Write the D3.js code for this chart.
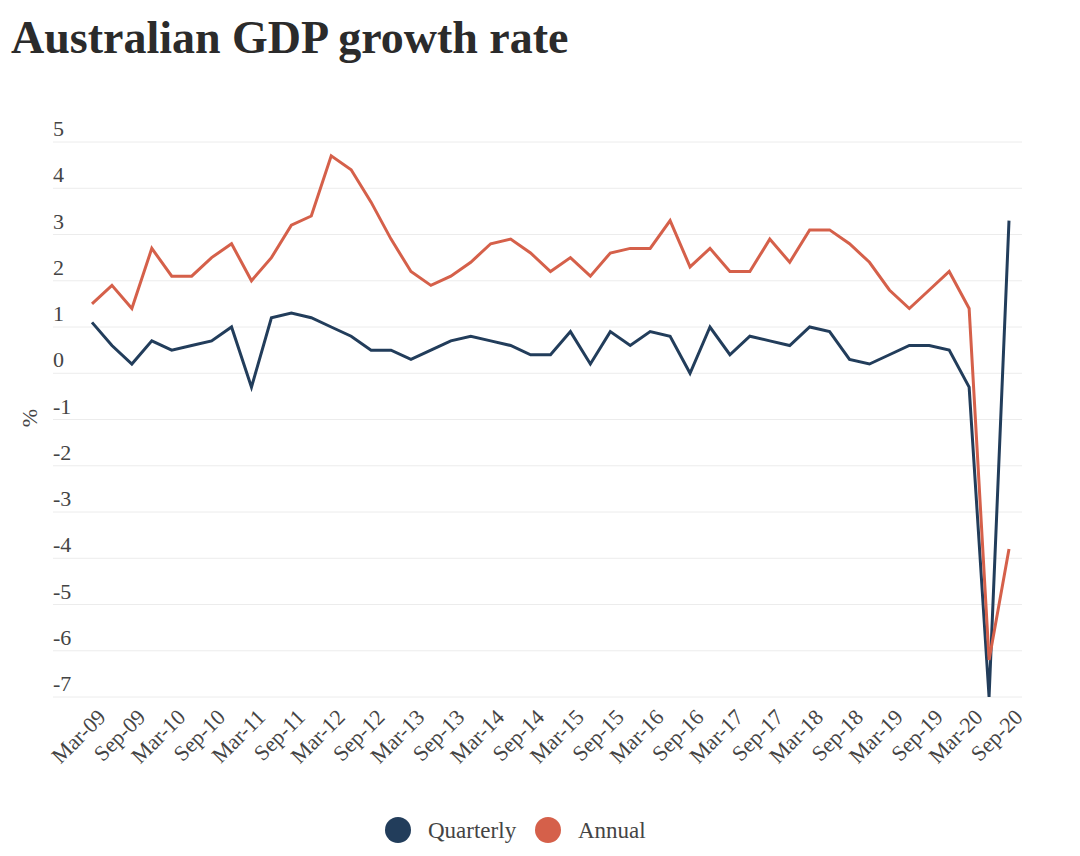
<!DOCTYPE html>
<html>
<head>
<meta charset="utf-8">
<script src="https://cdn.jsdelivr.net/npm/d3@7"></script>
<style>
  body { margin: 0; background: #fff; }
  text { font-family: "Liberation Serif", "DejaVu Serif", serif; }
</style>
</head>
<body>
<svg id="chart"></svg>
<script>
const quarters = [
    'Mar-09', 'Jun-09', 'Sep-09', 'Dec-09', 'Mar-10', 'Jun-10', 'Sep-10', 'Dec-10',
    'Mar-11', 'Jun-11', 'Sep-11', 'Dec-11', 'Mar-12', 'Jun-12', 'Sep-12', 'Dec-12',
    'Mar-13', 'Jun-13', 'Sep-13', 'Dec-13', 'Mar-14', 'Jun-14', 'Sep-14', 'Dec-14',
    'Mar-15', 'Jun-15', 'Sep-15', 'Dec-15', 'Mar-16', 'Jun-16', 'Sep-16', 'Dec-16',
    'Mar-17', 'Jun-17', 'Sep-17', 'Dec-17', 'Mar-18', 'Jun-18', 'Sep-18', 'Dec-18',
    'Mar-19', 'Jun-19', 'Sep-19', 'Dec-19', 'Mar-20', 'Jun-20', 'Sep-20'
];

const quarterly = [
    1.1, 0.6, 0.2, 0.7, 0.5, 0.6, 0.7, 1.0, -0.3, 1.2, 1.3,
    1.2, 1.0, 0.8, 0.5, 0.5, 0.3, 0.5, 0.7, 0.8, 0.7, 0.6, 0.4, 0.4, 0.9,
    0.2, 0.9, 0.6, 0.9, 0.8, 0.0, 1.0, 0.4, 0.8, 0.7, 0.6, 1.0, 0.9,
    0.3, 0.2, 0.4, 0.6, 0.6, 0.5, -0.3, -7.0, 3.3
];

const annual = [
    1.5, 1.9, 1.4, 2.7, 2.1, 2.1, 2.5, 2.8, 2.0, 2.5, 3.2,
    3.4, 4.7, 4.4, 3.7, 2.9, 2.2, 1.9, 2.1, 2.4, 2.8, 2.9, 2.6, 2.2, 2.5,
    2.1, 2.6, 2.7, 2.7, 3.3, 2.3, 2.7, 2.2, 2.2, 2.9, 2.4, 3.1, 3.1,
    2.8, 2.4, 1.8, 1.4, 1.8, 2.2, 1.4, -6.2, -3.8
];

const yTicks = [5, 4, 3, 2, 1, 0, -1, -2, -3, -4, -5, -6, -7];
const xTickLabels = quarters.filter((q, i) => i % 2 === 0);

const seriesNames = ['Quarterly', 'Annual'];
const colors = ['#223d5b', '#d5604a'];

const width = 1080;
const height = 856;

const svg = d3.select('#chart')
    .attr('width', width)
    .attr('height', height);

const x = d3.scalePoint()
    .domain(quarters)
    .range([92, 1009]);

const y = d3.scaleLinear()
    .domain([-7, 5])
    .range([697, 142]);

// title
svg.append('text')
    .attr('x', 11)
    .attr('y', 53)
    .attr('font-size', 46)
    .attr('font-weight', 'bold')
    .attr('fill', '#2b2b2b')
    .text('Australian GDP growth rate');

// gridlines + y labels
svg.append('g')
    .selectAll('line')
    .data(yTicks)
    .enter().append('line')
    .attr('x1', 53)
    .attr('x2', 1022)
    .attr('y1', d => y(d))
    .attr('y2', d => y(d))
    .attr('stroke', '#ececec')
    .attr('stroke-width', 1);

svg.append('g')
    .selectAll('text')
    .data(yTicks)
    .enter().append('text')
    .attr('x', 53)
    .attr('y', d => y(d) - 6)
    .attr('font-size', 22)
    .attr('fill', '#444')
    .text(d => d);

svg.append('text')
    .attr('transform', 'translate(37,418) rotate(-90)')
    .attr('text-anchor', 'middle')
    .attr('font-size', 22)
    .attr('fill', '#444')
    .text('%');

// x axis labels
const xAxis = d3.axisBottom(x)
    .tickValues(xTickLabels)
    .tickSize(0)
    .tickPadding(0);

const xg = svg.append('g')
    .attr('transform', 'translate(0,713)')
    .call(xAxis);

xg.select('.domain').remove();
xg.selectAll('text')
    .attr('font-family', '"Liberation Serif", serif')
    .attr('font-size', 22)
    .attr('fill', '#444')
    .attr('text-anchor', 'end')
    .attr('dy', '0.35em')
    .attr('dx', 0)
    .attr('y', 0)
    .attr('transform', 'translate(9,0) rotate(-45)');

// lines
const line = d3.line()
    .x((d, i) => x(quarters[i]))
    .y(d => y(d));

[quarterly, annual].forEach((series, k) => {
    svg.append('path')
        .datum(series)
        .attr('fill', 'none')
        .attr('stroke', colors[k])
        .attr('stroke-width', 3)
        .attr('stroke-linejoin', 'miter')
        .attr('d', line);
});

// legend
const legend = svg.append('g');
const legendX = [398, 548];
seriesNames.forEach((name, k) => {
    legend.append('circle')
        .attr('cx', legendX[k])
        .attr('cy', 830)
        .attr('r', 13)
        .attr('fill', colors[k]);
    legend.append('text')
        .attr('x', legendX[k] + 30)
        .attr('y', 838)
        .attr('font-size', 23)
        .attr('fill', '#444')
        .text(name);
});
</script>
</body>
</html>
